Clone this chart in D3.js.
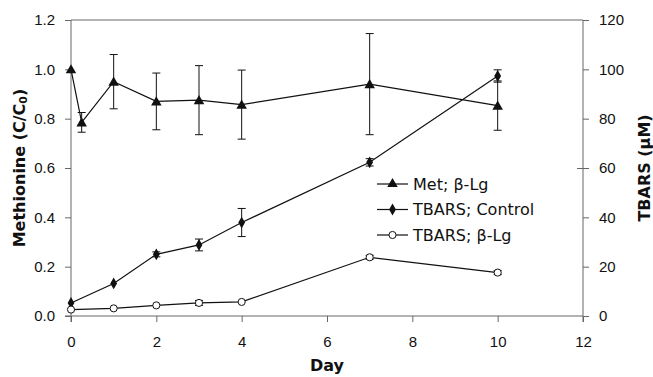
<!DOCTYPE html>
<html>
<head>
<meta charset="utf-8">
<script src="https://cdn.jsdelivr.net/npm/d3@7"></script>
<style>
  body { margin: 0; background: #fff; }
  svg { display: block; font-family: "DejaVu Sans", Arial, sans-serif; }
</style>
</head>
<body>
<svg id="chart" width="653" height="377"></svg>
<script>
// Met; beta-Lg (left axis, C/C0)
const metDays = [0, 0.25, 1, 2, 3, 4, 7, 10]
const metValues = [1.0, 0.785, 0.95, 0.87, 0.875, 0.857, 0.94, 0.853]
const metErrors = [0, 0.04, 0.11, 0.115, 0.14, 0.14, 0.205, 0.10]

// TBARS (right axis, uM)
const tbarsDays = [0, 1, 2, 3, 4, 7, 10]
const controlValues = [5.3, 13.2, 25.0, 28.8, 37.9, 62.3, 97.3]
const controlErrors = [0, 0, 1.0, 2.4, 5.7, 1.5, 2.5]
const lgValues = [2.6, 3.1, 4.3, 5.3, 5.7, 23.8, 17.6]
const lgErrors = [0, 0, 0, 1.0, 0, 0.8, 0.8]

const xTicks = [0, 2, 4, 6, 8, 10, 12]
const leftTicks = [0, 0.2, 0.4, 0.6, 0.8, 1.0, 1.2]
const rightTicks = [0, 20, 40, 60, 80, 100, 120]
const legendLabels = ['Met; \u03b2-Lg', 'TBARS; Control', 'TBARS; \u03b2-Lg']

const Margin = { Top: 20, Bottom: 61, Left: 71, Right: 70 }
const width = 653, height = 377
const axisColor = '#666'

const svg = d3.select('#chart')

const x = d3.scaleLinear().domain([0, 12]).range([Margin.Left, width - Margin.Right])
const yLeft = d3.scaleLinear().domain([0, 1.2]).range([height - Margin.Bottom, Margin.Top])
const yRight = d3.scaleLinear().domain([0, 120]).range([height - Margin.Bottom, Margin.Top])

const x0 = x(0), x1 = x(12), yb = yLeft(0), yt = yLeft(1.2)

// frame: top line
svg.append('line')
  .attr('x1', x0).attr('x2', x1).attr('y1', yt).attr('y2', yt)
  .attr('stroke', axisColor).attr('stroke-width', 1)

// x axis
const gx = svg.append('g').attr('transform', `translate(0,${yb})`)
  .call(d3.axisBottom(x).tickValues(xTicks).tickSize(6).tickSizeOuter(0).tickPadding(14))
gx.select('.domain').attr('stroke', axisColor).attr('d', `M${x0 - 6},0H${x1}`)
gx.selectAll('.tick line').attr('stroke', axisColor)
gx.selectAll('.tick text').attr('font-size', 15).attr('fill', '#111')

// left axis
const gl = svg.append('g').attr('transform', `translate(${x0},0)`)
  .call(d3.axisLeft(yLeft).tickValues(leftTicks).tickFormat(d3.format('.1f')).tickSize(6).tickSizeOuter(0).tickPadding(10))
gl.select('.domain').attr('stroke', axisColor).attr('d', `M0,${yt}V${yb + 6}`)
gl.selectAll('.tick line').attr('stroke', axisColor)
gl.selectAll('.tick text').attr('font-size', 15).attr('fill', '#111')

// right axis
const gr = svg.append('g').attr('transform', `translate(${x1},0)`)
  .call(d3.axisRight(yRight).tickValues(rightTicks).tickSize(6).tickSizeOuter(0).tickPadding(10))
gr.select('.domain').attr('stroke', axisColor).attr('d', `M0,${yt}V${yb + 6}`)
gr.selectAll('.tick line').attr('stroke', axisColor)
gr.selectAll('.tick').filter(d => d === 60).select('line').attr('x1', -6)
gr.selectAll('.tick text').attr('font-size', 15).attr('fill', '#111')

// axis titles
const leftTitle = svg.append('text')
  .attr('transform', `translate(19,${(yt + yb) / 2}) rotate(-90)`)
  .attr('text-anchor', 'middle').attr('dominant-baseline', 'central')
  .attr('font-size', 16).attr('font-weight', 'bold').attr('fill', '#111')
leftTitle.append('tspan').text('Methionine (C/C')
leftTitle.append('tspan').attr('font-size', 11).attr('dy', 4).text('0')
leftTitle.append('tspan').attr('dy', -4).text(')')

svg.append('text')
  .attr('transform', `translate(644,${(yt + yb) / 2}) rotate(-90)`)
  .attr('text-anchor', 'middle').attr('dominant-baseline', 'central')
  .attr('font-size', 16).attr('font-weight', 'bold').attr('fill', '#111')
  .text('TBARS (\u03bcM)')

svg.append('text')
  .attr('x', (x0 + x1) / 2).attr('y', 371)
  .attr('text-anchor', 'middle')
  .attr('font-size', 16).attr('font-weight', 'bold').attr('fill', '#111')
  .text('Day')

// series helpers
const line = (xs, ys, yScale) => d3.line()
  .x((d, i) => x(xs[i]))
  .y((d, i) => yScale(ys[i]))(ys)

function errorBars(xs, ys, es, yScale) {
  const g = svg.append('g').attr('stroke', '#111').attr('stroke-width', 1)
  xs.forEach((d, i) => {
    if (!es[i]) return
    const cx = x(d), lo = yScale(ys[i] - es[i]), hi = yScale(ys[i] + es[i])
    g.append('line').attr('x1', cx).attr('x2', cx).attr('y1', lo).attr('y2', hi)
    g.append('line').attr('x1', cx - 4).attr('x2', cx + 4).attr('y1', lo).attr('y2', lo)
    g.append('line').attr('x1', cx - 4).attr('x2', cx + 4).attr('y1', hi).attr('y2', hi)
  })
}

const triangle = d3.symbol().type(d3.symbolTriangle).size(48)
const diamond = d3.symbol().type(d3.symbolDiamond).size(40)
const circle = d3.symbol().type(d3.symbolCircle).size(40)

// TBARS beta-Lg
errorBars(tbarsDays, lgValues, lgErrors, yRight)
svg.append('path').attr('d', line(tbarsDays, lgValues, yRight))
  .attr('fill', 'none').attr('stroke', '#111').attr('stroke-width', 1.2)

// TBARS control
errorBars(tbarsDays, controlValues, controlErrors, yRight)
svg.append('path').attr('d', line(tbarsDays, controlValues, yRight))
  .attr('fill', 'none').attr('stroke', '#111').attr('stroke-width', 1.2)

// Met
errorBars(metDays, metValues, metErrors, yLeft)
svg.append('path').attr('d', line(metDays, metValues, yLeft))
  .attr('fill', 'none').attr('stroke', '#111').attr('stroke-width', 1.2)

svg.append('g').selectAll('path').data(tbarsDays).join('path')
  .attr('d', diamond)
  .attr('transform', (d, i) => `translate(${x(d)},${yRight(controlValues[i])})`)
  .attr('fill', '#111')

svg.append('g').selectAll('path').data(tbarsDays).join('path')
  .attr('d', circle)
  .attr('transform', (d, i) => `translate(${x(d)},${yRight(lgValues[i])})`)
  .attr('fill', '#fff').attr('stroke', '#111').attr('stroke-width', 1)

svg.append('g').selectAll('path').data(metDays).join('path')
  .attr('d', triangle)
  .attr('transform', (d, i) => `translate(${x(d)},${yLeft(metValues[i]) + 1})`)
  .attr('fill', '#111')

// legend
const legendSymbols = [triangle, diamond, circle]
const legend = svg.append('g').attr('transform', 'translate(377,184)')
legendLabels.forEach((label, i) => {
  const row = legend.append('g').attr('transform', `translate(0,${i * 25.5})`)
  row.append('line').attr('x1', 0).attr('x2', 31).attr('y1', 0).attr('y2', 0)
    .attr('stroke', '#111').attr('stroke-width', 1.2)
  row.append('path').attr('d', legendSymbols[i]).attr('transform', 'translate(15.5,0)')
    .attr('fill', i === 2 ? '#fff' : '#111').attr('stroke', i === 2 ? '#111' : 'none')
  row.append('text').attr('x', 36).attr('y', 0).attr('dominant-baseline', 'central')
    .attr('font-size', 16).attr('fill', '#111').text(label)
})
</script>
</body>
</html>
